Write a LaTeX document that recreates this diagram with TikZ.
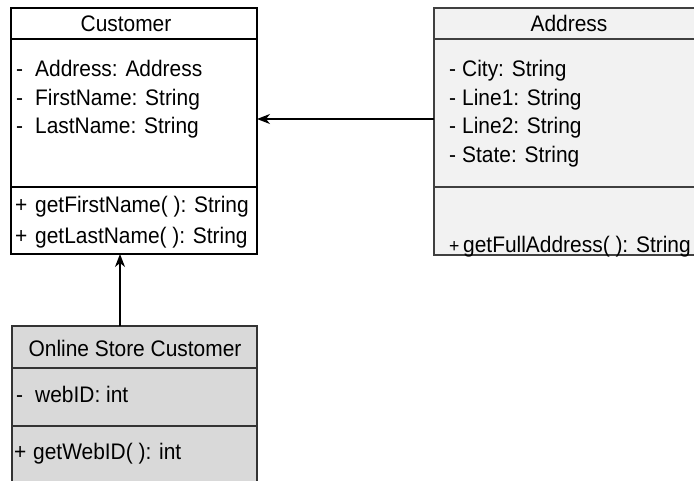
\documentclass[tikz,border=0pt]{standalone}
\usepackage{fontspec}
\setmainfont{Liberation Sans}[FakeStretch=0.93]
\usetikzlibrary{arrows.meta}
\begin{document}
\begin{tikzpicture}[x=1pt,y=-1pt,
  umlbox/.style={draw=#1, line width=1.3pt, inner sep=0pt, outer sep=0pt, anchor=north west},
  sepline/.style={draw=#1, line width=1.3pt},
  txt/.style={font=\fontsize{22.5}{26}\selectfont, inner sep=0pt, anchor=base west},
  hdr/.style={font=\fontsize{22.5}{26}\selectfont, inner sep=0pt, anchor=base},
  assoc/.style={line width=1.3pt, -{Stealth[length=13pt,width=10pt,inset=4pt]}}]
\useasboundingbox (0,0) rectangle (694,480);

% Boxes
\node[umlbox=black, fill=white, minimum width=246pt, minimum height=246pt] (cust) at (11,8) {};
\node[umlbox=black!75, fill=black!5, minimum width=262pt, minimum height=247pt] (addr) at (434,8) {};
\node[umlbox=black!80, fill=black!15, minimum width=245pt, minimum height=160pt] (onl) at (12,326) {};

% Compartment separators
\draw[sepline=black] (11,39) -- (257,39);
\draw[sepline=black] (11,187) -- (257,187);
\draw[sepline=black!75] (434,39) -- (696,39);
\draw[sepline=black!75] (434,187) -- (696,187);
\draw[sepline=black!80] (12,368) -- (257,368);
\draw[sepline=black!80] (12,426) -- (257,426);

% Customer
\node[hdr] (custname) at (126,31) {Customer};
\node[txt] (cd1) at (16,76.5) {-};
\node[txt] (ca1) at (35,76.5) {Address: Address};
\node[txt] (cd2) at (16,105) {-};
\node[txt] (ca2) at (35,105) {FirstName: String};
\node[txt] (cd3) at (16,133.5) {-};
\node[txt] (ca3) at (35,133.5) {LastName: String};
\node[txt] (cp1) at (15,212) {+};
\node[txt] (cm1) at (35,212) {getFirstName( ): String};
\node[txt] (cp2) at (15,243) {+};
\node[txt] (cm2) at (35,243) {getLastName( ): String};

% Address
\node[hdr] (addrname) at (569,31) {Address};
\node[txt] (ad1) at (449,76.5) {-};
\node[txt] (aa1) at (462,76.5) {City: String};
\node[txt] (ad2) at (449,105) {-};
\node[txt] (aa2) at (462,105) {Line1: String};
\node[txt] (ad3) at (449,133.5) {-};
\node[txt] (aa3) at (462,133.5) {Line2: String};
\node[txt] (ad4) at (449,162) {-};
\node[txt] (aa4) at (462,162) {State: String};
\node[txt, font=\fontsize{19}{22}\selectfont] (ap1) at (449,252) {+};
\node[txt] (am1) at (463,252) {getFullAddress( ): String};

% Online Store Customer
\node[hdr] (onlname) at (135,356) {Online Store Customer};
\node[txt] (od1) at (16,402) {-};
\node[txt] (oa1) at (35,402) {webID: int};
\node[txt] (op1) at (14,459) {+};
\node[txt] (om1) at (33,459) {getWebID( ): int};

% Connectors
\coordinate (ay) at (0,119);
\coordinate (vx) at (120,0);
\draw[assoc] (addr.west |- ay) -- (cust.east |- ay);
\draw[assoc] (onl.north -| vx) -- (cust.south -| vx);
\end{tikzpicture}
\end{document}
